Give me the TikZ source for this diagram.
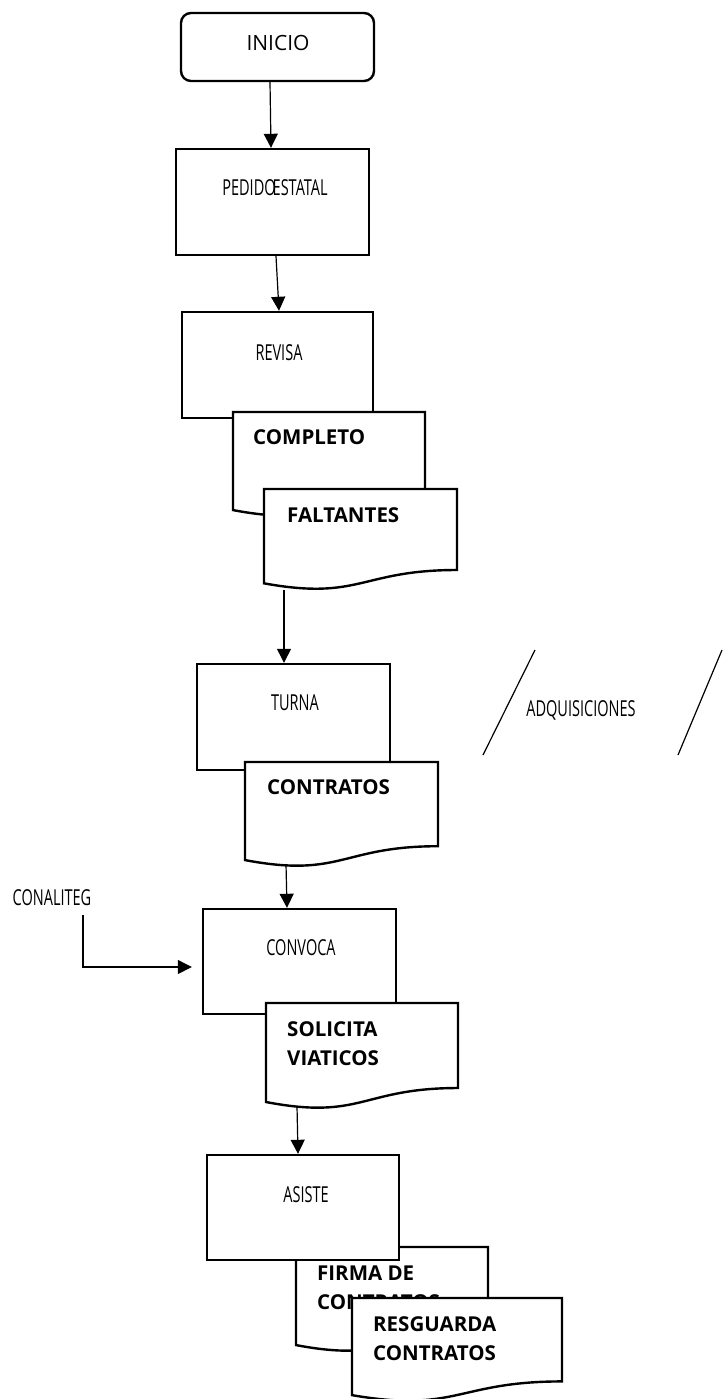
\documentclass[tikz,border=0pt]{standalone}
\usepackage{fontspec}
\setmainfont{Open Sans}
\newfontfamily\condfont[FakeStretch=0.66]{Open Sans}
\usetikzlibrary{arrows.meta,calc}
\tikzset{
  box/.style={draw, line width=2.4pt, fill=white, inner sep=0pt},
  docline/.style={draw, line width=2.4pt, fill=white, line join=miter},
  lbl/.style={font=\condfont\fontsize{22}{26}\selectfont, inner sep=0pt},
  ilbl/.style={font=\fontsize{21}{26}\selectfont, inner sep=0pt},
  blbl/.style={font=\bfseries\fontsize{20.5}{29}\selectfont, inner sep=0pt, align=left},
  arr/.style={-{Triangle[width=14pt,length=14pt]}, line width=1.2pt},
  thin/.style={line width=1.2pt}
}
\newcommand\docshape[4]{% x1, top, x2, h
  \draw[docline] (#1,#2) -- (#3,#2) -- (#3,{#2+0.802*#4})
    .. controls ({(#1+#3)/2},{#2+0.802*#4}) and ({(#1+#3)/2},{#2+1.1075*#4}) ..
    (#1,{#2+0.934*#4}) -- cycle;
}
\begin{document}
\begin{tikzpicture}[x=1pt,y=-1pt]
\useasboundingbox (0,0) rectangle (723,1399);

% INICIO
\node[box, rounded corners=10pt, minimum width=193pt, minimum height=68pt] (inicio) at (277.5,47) {};
\node[ilbl] (tinicio) at (278,43) {INICIO};

% PEDIDO ESTATAL
\node[box, minimum width=193pt, minimum height=106pt] (pedido) at (272.5,202) {};
\node[lbl] (tpedido) at (275,188) {PEDIDO\hspace{-3pt}ESTATAL};

% REVISA
\node[box, minimum width=191pt, minimum height=106pt] (revisa) at (277.5,365) {};
\node[lbl] (trevisa) at (279,353) {REVISA};

% COMPLETO
\docshape{233}{412}{425}{105}
\node[blbl, anchor=west] (tcompleto) at (253,437) {COMPLETO};

% FALTANTES
\docshape{264}{489}{457}{101}
\node[blbl, anchor=west] (tfaltantes) at (287,515) {FALTANTES};
\coordinate (faltout) at (284,590);

% TURNA
\node[box, minimum width=193pt, minimum height=106pt] (turna) at (293.5,717) {};
\node[lbl] (tturna) at (295,703) {TURNA};

% CONTRATOS
\docshape{245}{762}{438}{105}
\node[blbl, anchor=west] (tcontratos) at (267,787) {CONTRATOS};
\coordinate (contout) at (286,864);

% ADQUISICIONES
\draw[thin] (535,650) -- (483,755);
\draw[thin] (722,650) -- (678,755);
\node[lbl] (tadq) at (581,710) {ADQUISICIONES};

% CONVOCA
\node[box, minimum width=193pt, minimum height=105pt] (convoca) at (299.5,961.5) {};
\node[lbl] (tconvoca) at (301,948) {CONVOCA};

% CONALITEG
\node[lbl] (tconaliteg) at (52,898) {CONALITEG};
\coordinate (cstart) at (83,915);

% SOLICITA VIATICOS
\docshape{266}{1003}{458}{106}
\node[blbl, anchor=north west] (tsolicita) at (287,1021) {SOLICITA\\VIATICOS};
\coordinate (solout) at (297,1106);

% FIRMA DE CONTRATOS
\docshape{296}{1247}{488}{105}
\node[blbl, anchor=north west] (tfirma) at (317,1266) {FIRMA DE\\CONTRATOS};

% ASISTE
\node[box, minimum width=192pt, minimum height=105pt] (asiste) at (303,1207.5) {};
\node[lbl] (tasiste) at (306,1195) {ASISTE};

% RESGUARDA CONTRATOS
\docshape{352}{1298}{562}{104}
\node[blbl, anchor=north west] (tresguarda) at (373,1316) {RESGUARDA\\CONTRATOS};

% connectors
\draw[arr] ([xshift=-7.5pt]inicio.south) -- ([xshift=-1.5pt]pedido.north);
\draw[arr] ([xshift=3.5pt]pedido.south) -- ([xshift=1.5pt]revisa.north);
\draw[arr] (faltout) -- ([xshift=-9.5pt]turna.north);
\draw[arr] (contout) -- ([xshift=-12.5pt]convoca.north);
\draw[arr, shorten >=10pt] (cstart) |- ([yshift=-5.5pt]convoca.west);
\draw[arr] (solout) -- ([xshift=-5pt]asiste.north);
\end{tikzpicture}
\end{document}
